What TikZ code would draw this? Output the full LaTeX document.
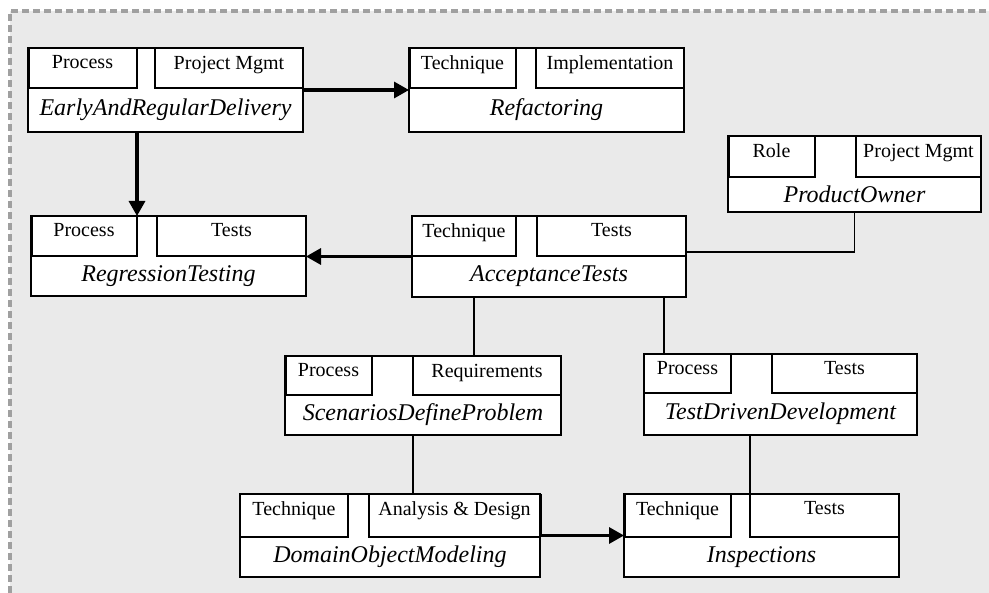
\documentclass[tikz,border=0pt]{standalone}
\usepackage{fontspec}
\setmainfont{Liberation Serif}
\usetikzlibrary{arrows.meta}
\definecolor{panelgray}{HTML}{EAEAEA}
\definecolor{bordergray}{HTML}{A0A0A0}

\begin{document}
\begin{tikzpicture}[x=1pt, y=-1pt, line width=1.6pt,
    classbox/.style={draw, fill=white, inner sep=0pt, outer sep=0pt},
    kindbox/.style={draw, fill=white, inner sep=0pt, outer sep=0pt},
    kindlabel/.style={inner sep=0pt, anchor=north, font=\fontsize{20}{20}\selectfont},
    classname/.style={inner sep=0pt, font=\fontsize{24}{24}\selectfont\itshape},
    link/.style={line width=1.8pt},
    dep/.style={line width=3.2pt, -{Triangle[length=15pt, width=16pt]}}]

    % Background panel
    \useasboundingbox (0,0) rectangle (989,593);
    \fill[panelgray] (10,11) rectangle (989,593);
    \draw[bordergray, line width=3.2pt, dash pattern=on 7pt off 4pt] (10,593) -- (10,11) -- (989,11);

    % Practice boxes: name/left/top/right/bottom/divider/left cell end/right cell start/kind/area/title
    \foreach \id/\l/\t/\r/\b/\d/\ca/\cb/\ka/\kb/\nm in {
        erd/28/48/303/132/88/137/155/Process/Project Mgmt/EarlyAndRegularDelivery,
        ref/409/48/684/132/88/516/536/Technique/Implementation/Refactoring,
        po/728/136/981/212/177/815/856/Role/Project Mgmt/ProductOwner,
        reg/31/216/306/296/256/137/157/Process/Tests/RegressionTesting,
        acc/412/216/686/297/256/516/537/Technique/Tests/AcceptanceTests,
        sdp/285/356/561/435/395/372/413/Process/Requirements/ScenariosDefineProblem,
        tdd/644/354/917/435/393/731/772/Process/Tests/TestDrivenDevelopment,
        dom/240/494/540/577/537/348/369/Technique/Analysis \& Design/DomainObjectModeling,
        ins/624/494/899/577/537/731/750/Technique/Tests/Inspections} {
        \pgfmathsetmacro{\w}{\r-\l}
        \pgfmathsetmacro{\h}{\b-\t}
        \pgfmathsetmacro{\hk}{\d-\t}
        \pgfmathsetmacro{\wa}{\ca-\l}
        \pgfmathsetmacro{\wb}{\r-\cb}
        \pgfmathsetmacro{\mx}{(\l+\r)/2}
        \pgfmathsetmacro{\my}{(\d+\b)/2}
        \node[classbox, anchor=north west, minimum width=\w pt, minimum height=\h pt] (\id) at (\l,\t) {};
        \node[kindbox, anchor=north west, minimum width=\wa pt, minimum height=\hk pt] (\id-a) at (\l,\t) {};
        \node[kindbox, anchor=north west, minimum width=\wb pt, minimum height=\hk pt] (\id-b) at (\cb,\t) {};
        \node[kindlabel] (\id-ka) at ([yshift=-7pt]\id-a.north) {\ka};
        \node[kindlabel] (\id-kb) at ([yshift=-7pt]\id-b.north) {\kb};
        \node[classname] (\id-n) at (\mx,\my) {\nm};
    }

    % Heavier cell edges
    \foreach \id in {erd,ref,po,reg,sdp,ins} {
        \draw[line width=3pt] (\id-a.north west) -- (\id-a.south west);
    }
    \draw[line width=3pt] (dom-b.north east) -- (dom-b.south east);

    % Dependencies
    \draw[dep] (erd) -- (ref);
    \draw[dep] (erd-a.east |- erd.south) -- (reg-a.north east);
    \draw[dep] (acc.west) -- (reg.east |- acc.west);
    \draw[dep] (dom) -- (ins);

    % Associations
    \coordinate (acc-s1) at ([xshift=-75pt]acc.south);
    \coordinate (tdd-n1) at ([xshift=20pt]tdd.north west);
    \draw[link] (po.south) |- ([yshift=4.5pt]acc.east);
    \draw[link] (acc-s1) -- (acc-s1 |- sdp.north);
    \draw[link] (tdd-n1 |- acc.south) -- (tdd-n1);
    \draw[link] (sdp-b.west |- sdp.south) -- (sdp-b.west |- dom.north);
    \draw[link] (ins-b.west |- tdd.south) -- (ins-b.north west);
\end{tikzpicture}
\end{document}
